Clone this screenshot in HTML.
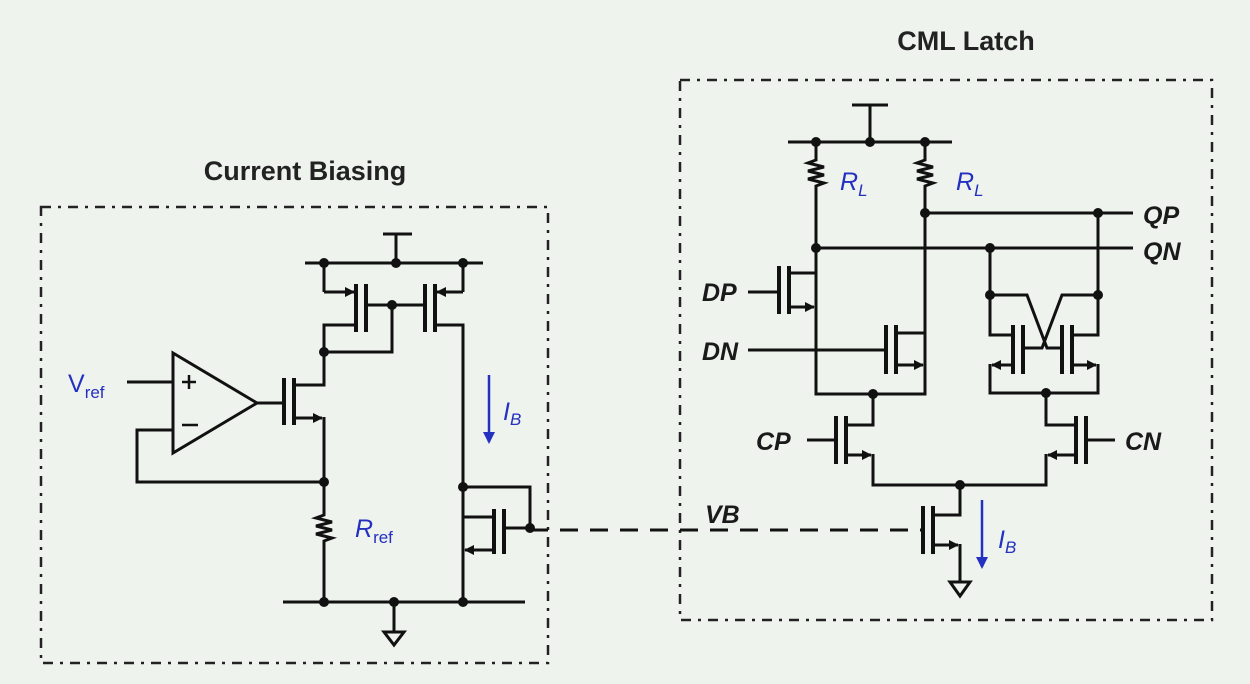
<!DOCTYPE html>
<html><head><meta charset="utf-8"><style>
html,body{margin:0;padding:0;background:#eef3ee;}
svg{display:block}
text{font-family:"Liberation Sans",sans-serif;}
.w{stroke:#111;stroke-width:3;fill:none;stroke-linejoin:miter}
.g{stroke:#111;stroke-width:4;fill:none}
.lab{font-weight:bold;font-style:italic;font-size:25px;fill:#1a1a1a}
.blue{fill:#2430c0;font-style:italic;font-size:25px}
</style></head><body>
<svg width="1250" height="684" viewBox="0 0 1250 684" xmlns="http://www.w3.org/2000/svg">
<defs>
<marker id="a" markerWidth="10" markerHeight="10" refX="9" refY="5" orient="auto" markerUnits="userSpaceOnUse"><path d="M0,0 L10,5 L0,10 z" fill="#111"/></marker>
<marker id="b" markerWidth="12" markerHeight="12" refX="10" refY="6" orient="auto" markerUnits="userSpaceOnUse"><path d="M0,0 L12,6 L0,12 z" fill="#2430c0"/></marker>
</defs>
<rect width="1250" height="684" fill="#eef3ee"/>
<rect x="41" y="207" width="507" height="456" fill="none" stroke="#222" stroke-width="2.5" stroke-dasharray="10 7 3 7"/>
<rect x="680" y="80" width="532" height="540" fill="none" stroke="#222" stroke-width="2.5" stroke-dasharray="10 7 3 7"/>
<text x="305" y="180" text-anchor="middle" font-size="27" font-weight="bold" fill="#222">Current Biasing</text>
<text x="966" y="50" text-anchor="middle" font-size="27" font-weight="bold" fill="#222">CML Latch</text>

<path class="w" d="M383,234 H412 M396,234 V263 M305,263 H483"/>
<path class="w" d="M324,263 V292"/><line class="w" x1="324" y1="292" x2="354" y2="292" marker-end="url(#a)"/>
<path class="g" d="M356,284 V332 M366,284 V332"/>
<path class="w" d="M356,325 H324 V352 H392 V305 M366,305 H423"/>
<path class="w" d="M463,263 V292"/><line class="w" x1="463" y1="292" x2="437" y2="292" marker-end="url(#a)"/>
<path class="g" d="M435,284 V332 M425,284 V332"/>
<path class="w" d="M435,325 H463 V602"/>
<path class="g" d="M284,378 V425 M294,378 V425"/>
<path class="w" d="M294,385 H324 V352 M257,403 H284"/>
<line class="w" x1="294" y1="418" x2="322" y2="418" marker-end="url(#a)"/>
<path class="w" d="M324,417 V515 l-8,3 l16,4 l-16,4 l16,4 l-16,4 l16,4 l-8,3 V602"/>
<path class="w" d="M173,353 L257,403 L173,453 Z"/>
<path class="w" d="M127,382 H173 M173,430 H137 V482 H324"/>
<path stroke="#111" stroke-width="2.5" d="M182,382 H196 M189,375 V389 M182,425 H198"/>
<path class="w" d="M283,602 H525 M394,602 V632"/>
<path class="w" d="M384,632 H404 L394,645 Z"/>
<path class="w" d="M463,487 H530 V528 M463,517 H494 M504,528 H530"/>
<path class="g" d="M494,509 V554 M504,509 V554"/>
<line class="w" x1="494" y1="550" x2="465" y2="550" marker-end="url(#a)"/>
<g fill="#111"><circle cx="324" cy="263" r="5"/><circle cx="396" cy="263" r="5"/><circle cx="463" cy="263" r="5"/><circle cx="392" cy="305" r="5"/><circle cx="324" cy="352" r="5"/><circle cx="324" cy="482" r="5"/><circle cx="463" cy="487" r="5"/><circle cx="530" cy="528" r="5"/><circle cx="324" cy="602" r="5"/><circle cx="394" cy="602" r="5"/><circle cx="463" cy="602" r="5"/></g>
<line x1="489" y1="375" x2="489" y2="442" stroke="#2430c0" stroke-width="2.5" marker-end="url(#b)"/>
<text x="503" y="420" class="blue">I<tspan font-size="17" dy="5">B</tspan></text>
<text x="355" y="537" class="blue">R<tspan font-size="17" dy="6" font-style="normal">ref</tspan></text>
<text x="68" y="392" font-size="25" fill="#2430c0">V<tspan font-size="17" dy="6">ref</tspan></text>
<line x1="530" y1="530" x2="922" y2="530" stroke="#111" stroke-width="3" stroke-dasharray="18 12"/>
<text x="705" y="523" class="lab">VB</text>

<path class="w" d="M852,105 H888 M870,105 V142 M788,142 H952"/>
<path class="w" d="M816,142 V160 l-8,3 l16,4 l-16,4 l16,4 l-16,4 l16,4 l-8,3 V307"/>
<path class="w" d="M925,142 V160 l-8,3 l16,4 l-16,4 l16,4 l-16,4 l16,4 l-8,3 V365"/>
<path class="w" d="M925,213 H1133 M816,248 H1133"/>
<path class="g" d="M779,266 V314 M789,266 V314"/>
<path class="w" d="M789,273 H816 M748,292 H779"/>
<line class="w" x1="789" y1="307" x2="814" y2="307" marker-end="url(#a)"/>
<path class="w" d="M816,306 V394 H925 V364"/>
<path class="g" d="M886,325 V374 M896,325 V374"/>
<path class="w" d="M896,333 H925 M748,350 H886"/>
<line class="w" x1="896" y1="365" x2="923" y2="365" marker-end="url(#a)"/>
<path class="g" d="M836,416 V464 M846,416 V464"/>
<path class="w" d="M873,394 V425 H846 M807,440 H836"/>
<line class="w" x1="846" y1="455" x2="871" y2="455" marker-end="url(#a)"/>
<path class="w" d="M873,454 V485 H1046 V454"/>
<path class="g" d="M1076,416 V464 M1086,416 V464"/>
<path class="w" d="M1046,393 V425 H1076 M1086,440 H1115"/>
<line class="w" x1="1076" y1="455" x2="1048" y2="455" marker-end="url(#a)"/>
<path class="w" d="M990,248 V335 H1013 M1098,213 V335 H1072"/>
<path class="g" d="M1013,325 V374 M1023,325 V374 M1072,325 V374 M1062,325 V374"/>
<line class="w" x1="1013" y1="365" x2="992" y2="365" marker-end="url(#a)"/>
<line class="w" x1="1072" y1="365" x2="1096" y2="365" marker-end="url(#a)"/>
<path class="w" d="M990,364 V393 H1098 V364"/>
<path class="w" d="M990,295 H1027 L1047,348 H1062 M1098,295 H1062 L1042,348 H1023"/>
<path class="g" d="M923,506 V554 M933,506 V554"/>
<path class="w" d="M960,485 V515 H933"/>
<line class="w" x1="933" y1="545" x2="958" y2="545" marker-end="url(#a)"/>
<path class="w" d="M960,544 V582"/>
<path class="w" d="M950,582 H970 L960,596 Z"/>
<g fill="#111"><circle cx="816" cy="142" r="5"/><circle cx="870" cy="142" r="5"/><circle cx="925" cy="142" r="5"/><circle cx="925" cy="213" r="5"/><circle cx="1098" cy="213" r="5"/><circle cx="816" cy="248" r="5"/><circle cx="990" cy="248" r="5"/><circle cx="990" cy="295" r="5"/><circle cx="1098" cy="295" r="5"/><circle cx="873" cy="394" r="5"/><circle cx="1046" cy="393" r="5"/><circle cx="960" cy="485" r="5"/></g>
<line x1="982" y1="500" x2="982" y2="567" stroke="#2430c0" stroke-width="2.5" marker-end="url(#b)"/>
<text x="998" y="548" class="blue">I<tspan font-size="17" dy="5">B</tspan></text>
<text x="840" y="190" class="blue">R<tspan font-size="17" dy="6">L</tspan></text>
<text x="956" y="190" class="blue">R<tspan font-size="17" dy="6">L</tspan></text>
<text x="1143" y="224" class="lab">QP</text>
<text x="1143" y="260" class="lab">QN</text>
<text x="702" y="301" class="lab">DP</text>
<text x="702" y="360" class="lab">DN</text>
<text x="756" y="450" class="lab">CP</text>
<text x="1125" y="450" class="lab">CN</text>
</svg>
</body></html>
